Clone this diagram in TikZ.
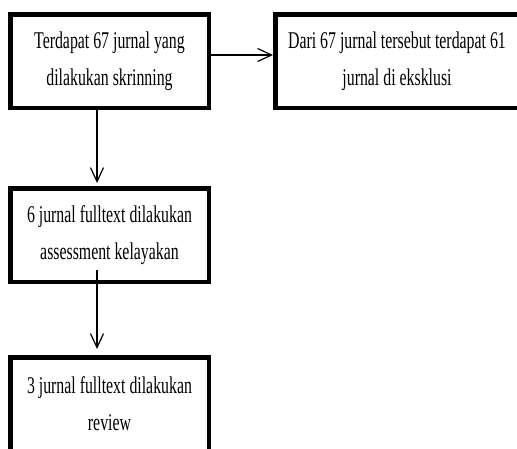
\documentclass[tikz,border=0pt]{standalone}
\usepackage{fontspec}
\setmainfont{Liberation Serif}[FakeStretch=0.66]
\usetikzlibrary{arrows.meta}
\begin{document}
\begin{tikzpicture}[x=1pt,y=-1pt,
  stepbox/.style={draw=black, line width=4.5pt, fill=white, align=center,
    inner sep=0pt, minimum height=93.5pt,
    font=\fontsize{24}{37}\selectfont},
  steptext/.style={align=center, inner sep=0pt, font=\fontsize{24}{37}\selectfont},
  arr/.style={draw=black, line width=1.2pt,
    -{Straight Barb[length=14pt,width=13pt,line width=1.2pt]}}
]
\useasboundingbox (0,0) rectangle (517,448);
\clip (0,0) rectangle (517,448);
\fill[white] (0,0) rectangle (517,448);
\node[stepbox, minimum width=198.5pt] (b1) at (109.5,61) {Terdapat 67 jurnal yang\\dilakukan skrinning};
\node[stepbox, minimum width=255.5pt] (b2) at (403,61) {};
\node[steptext] (b2t) at (397,61) {Dari 67 jurnal tersebut terdapat 61\\jurnal di eksklusi};
\node[stepbox, minimum width=198.5pt] (b3) at (109.5,235) {6 jurnal fulltext dilakukan\\assessment kelayakan};
\node[stepbox, minimum width=198.5pt] (b4) at (109.5,404) {3 jurnal fulltext dilakukan\\review};
\draw[arr] ([yshift=6pt]b1.east) -- ([yshift=6pt]b2.west);
\draw[arr, shorten >=3pt] ([xshift=-12.5pt]b1.south) -- ([xshift=-12.5pt]b3.north);
\draw[arr, shorten >=6pt, shorten <=-14pt] ([xshift=-12.5pt]b3.south) -- ([xshift=-12.5pt]b4.north);
\end{tikzpicture}
\end{document}
